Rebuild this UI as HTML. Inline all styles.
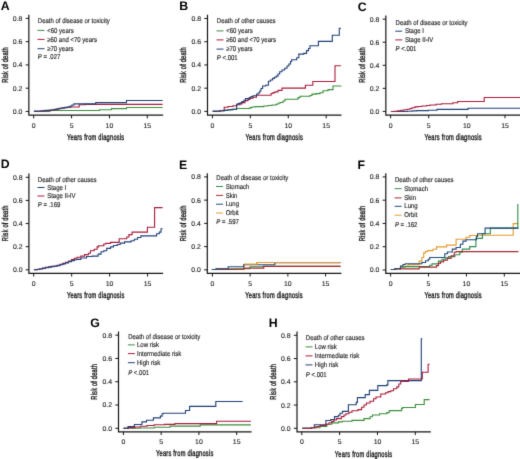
<!DOCTYPE html>
<html><head><meta charset="utf-8"><style>
html,body{margin:0;padding:0;background:#fff;}
svg{display:block;text-rendering:geometricPrecision;}
text{font-family:"Liberation Sans",sans-serif;fill:#1e1e1e;}
.L{font-weight:bold;font-size:12.3px;fill:#000;}
.t{font-size:6.9px;stroke:#1e1e1e;stroke-width:0.12px;}
.at{font-size:8.6px;stroke:#1e1e1e;stroke-width:0.4px;}
.lg{font-size:7px;stroke:#1e1e1e;stroke-width:0.15px;}
.ax{stroke:#141414;stroke-width:1.2;fill:none;stroke-linecap:square;}
.tk{stroke:#141414;stroke-width:1.0;fill:none;}
.cv{stroke-width:1.1;fill:none;}
</style></head><body>
<svg width="520" height="459" viewBox="0 0 520 459"><defs><filter id="soft" x="0" y="0" width="520" height="459" filterUnits="userSpaceOnUse" color-interpolation-filters="sRGB"><feConvolveMatrix order="3" kernelMatrix="0.0113 0.0838 0.0113 0.0838 0.6193 0.0838 0.0113 0.0838 0.0113" edgeMode="duplicate"/></filter></defs>
<g filter="url(#soft)"><rect x="-5" y="-5" width="530" height="470" fill="#fff"/>
<text x="0.65" y="10.45" class="L">A</text>
<path d="M28.85 15.25 V115.20 H162.50" class="ax"/>
<path d="M25.65 111.45 H28.85" class="tk"/>
<text x="22.45" y="113.90" class="t" text-anchor="end">0.0</text>
<path d="M25.65 88.19 H28.85" class="tk"/>
<text x="22.45" y="90.64" class="t" text-anchor="end">0.2</text>
<path d="M25.65 64.92 H28.85" class="tk"/>
<text x="22.45" y="67.38" class="t" text-anchor="end">0.4</text>
<path d="M25.65 41.66 H28.85" class="tk"/>
<text x="22.45" y="44.11" class="t" text-anchor="end">0.6</text>
<path d="M25.65 18.40 H28.85" class="tk"/>
<text x="22.45" y="20.85" class="t" text-anchor="end">0.8</text>
<path d="M33.70 115.20 V118.40" class="tk"/>
<text x="33.70" y="127.60" class="t" text-anchor="middle">0</text>
<path d="M71.57 115.20 V118.40" class="tk"/>
<text x="71.57" y="127.60" class="t" text-anchor="middle">5</text>
<path d="M109.43 115.20 V118.40" class="tk"/>
<text x="109.43" y="127.60" class="t" text-anchor="middle">10</text>
<path d="M147.30 115.20 V118.40" class="tk"/>
<text x="147.30" y="127.60" class="t" text-anchor="middle">15</text>
<text transform="translate(95.67 139.80) scale(0.66 1)" class="at" letter-spacing="0.36" text-anchor="middle">Years from diagnosis</text>
<text transform="translate(7.65 64.95) rotate(-90) scale(0.66 1)" class="at" letter-spacing="0.3" text-anchor="middle">Risk of death</text>
<text transform="translate(37.80 22.90) scale(0.857 1)" class="lg">Death of disease or toxicity</text>
<path d="M37.50 30.40 h7" stroke="#3a8c3a" stroke-width="1.0" fill="none"/>
<text transform="translate(47.20 32.50) scale(0.857 1)" class="lg">&lt;60 years</text>
<path d="M37.50 39.40 h7" stroke="#a81a3a" stroke-width="1.0" fill="none"/>
<text transform="translate(47.20 41.50) scale(0.857 1)" class="lg">≥60 and &lt;70 years</text>
<path d="M37.50 48.70 h7" stroke="#1f3f76" stroke-width="1.0" fill="none"/>
<text transform="translate(47.20 50.80) scale(0.857 1)" class="lg">≥70 years</text>
<text transform="translate(37.80 58.90) scale(0.857 1)" class="lg"><tspan font-style="italic">P</tspan> = .027</text>
<path d="M33.90 111.40 H49.70 V110.50 H99.60 V109.80 H111.50 V108.60 H126.50 V107.50 H162.60 V107.50" stroke="#3a8c3a" class="cv"/>
<path d="M33.90 111.40 H38.00 V111.20 H43.00 V110.90 H47.00 V110.60 H51.00 V110.00 H55.00 V109.40 H58.00 V108.70 H61.00 V108.20 H64.00 V107.70 H67.00 V107.30 H71.20 V107.00 H79.20 V104.80 H85.00 V104.40 H162.60 V104.40" stroke="#a81a3a" class="cv"/>
<path d="M33.90 111.40 H37.00 V111.20 H41.00 V110.80 H45.00 V110.40 H49.00 V110.00 H53.00 V109.50 H56.00 V109.00 H59.00 V108.30 H62.00 V107.90 H65.00 V107.40 H68.00 V106.90 H70.40 V106.00 H72.00 V105.00 H74.00 V103.90 H95.80 V102.60 H126.50 V100.50 H162.60 V100.50" stroke="#1f3f76" class="cv"/>
<text x="179.30" y="10.30" class="L">B</text>
<path d="M207.50 15.35 V115.15 H340.90" class="ax"/>
<path d="M204.30 111.40 H207.50" class="tk"/>
<text x="201.10" y="113.85" class="t" text-anchor="end">0.0</text>
<path d="M204.30 88.18 H207.50" class="tk"/>
<text x="201.10" y="90.63" class="t" text-anchor="end">0.2</text>
<path d="M204.30 64.95 H207.50" class="tk"/>
<text x="201.10" y="67.40" class="t" text-anchor="end">0.4</text>
<path d="M204.30 41.72 H207.50" class="tk"/>
<text x="201.10" y="44.17" class="t" text-anchor="end">0.6</text>
<path d="M204.30 18.50 H207.50" class="tk"/>
<text x="201.10" y="20.95" class="t" text-anchor="end">0.8</text>
<path d="M212.40 115.15 V118.35" class="tk"/>
<text x="212.40" y="127.55" class="t" text-anchor="middle">0</text>
<path d="M250.33 115.15 V118.35" class="tk"/>
<text x="250.33" y="127.55" class="t" text-anchor="middle">5</text>
<path d="M288.27 115.15 V118.35" class="tk"/>
<text x="288.27" y="127.55" class="t" text-anchor="middle">10</text>
<path d="M326.20 115.15 V118.35" class="tk"/>
<text x="326.20" y="127.55" class="t" text-anchor="middle">15</text>
<text transform="translate(274.20 139.75) scale(0.66 1)" class="at" letter-spacing="0.36" text-anchor="middle">Years from diagnosis</text>
<text transform="translate(186.30 64.90) rotate(-90) scale(0.66 1)" class="at" letter-spacing="0.3" text-anchor="middle">Risk of death</text>
<text transform="translate(216.80 23.30) scale(0.857 1)" class="lg">Death of other causes</text>
<path d="M216.50 30.90 h7" stroke="#3a8c3a" stroke-width="1.0" fill="none"/>
<text transform="translate(226.20 33.00) scale(0.857 1)" class="lg">&lt;60 years</text>
<path d="M216.50 39.90 h7" stroke="#a81a3a" stroke-width="1.0" fill="none"/>
<text transform="translate(226.20 42.00) scale(0.857 1)" class="lg">≥60 and &lt;70 years</text>
<path d="M216.50 49.10 h7" stroke="#1f3f76" stroke-width="1.0" fill="none"/>
<text transform="translate(226.20 51.20) scale(0.857 1)" class="lg">≥70 years</text>
<text transform="translate(216.80 59.60) scale(0.857 1)" class="lg"><tspan font-style="italic">P</tspan> &lt;.001</text>
<path d="M212.70 111.40 H216.00 V111.20 H220.00 V110.80 H224.20 V110.40 H228.00 V109.70 H232.00 V109.20 H236.70 V108.50 H250.00 V107.60 H252.00 V107.00 H255.00 V106.60 H263.80 V106.00 H268.00 V105.50 H272.00 V105.00 H276.00 V104.20 H278.00 V103.30 H280.00 V102.50 H283.00 V101.00 H285.00 V99.30 H298.00 V97.60 H300.00 V96.30 H310.00 V95.50 H312.00 V94.10 H316.00 V93.60 H320.00 V92.70 H323.00 V90.80 H328.00 V89.60 H333.00 V86.00 H341.00 V85.70" stroke="#3a8c3a" class="cv"/>
<path d="M212.70 111.40 H216.00 V111.20 H220.00 V110.80 H224.20 V107.30 H228.00 V106.50 H233.00 V105.80 H236.90 V104.80 H240.00 V103.90 H242.00 V102.60 H245.00 V100.60 H248.00 V99.40 H250.00 V98.30 H253.00 V97.30 H256.50 V95.20 H271.10 V93.50 H273.00 V92.60 H275.00 V91.90 H278.00 V90.40 H282.00 V88.10 H305.40 V85.20 H312.80 V81.50 H335.00 V65.70 H341.00 V65.70" stroke="#a81a3a" class="cv"/>
<path d="M212.70 111.40 H216.00 V111.20 H220.00 V110.80 H224.20 V110.40 H227.00 V110.00 H230.00 V109.60 H233.00 V109.20 H236.60 V104.20 H238.00 V103.60 H240.00 V102.80 H242.00 V101.50 H244.00 V100.20 H245.50 V98.60 H249.20 V97.50 H251.00 V96.60 H253.00 V95.80 H256.50 V94.30 H258.00 V93.00 H259.70 V91.00 H261.00 V88.50 H262.60 V86.00 H265.60 V85.30 H268.40 V81.20 H270.50 V80.00 H272.60 V78.40 H274.50 V77.20 H276.20 V76.10 H278.00 V74.00 H279.70 V71.80 H282.00 V70.00 H284.70 V68.30 H287.00 V66.00 H288.90 V64.00 H290.50 V61.50 H291.70 V59.80 H296.70 V57.70 H298.80 V54.10 H303.70 V53.40 H306.60 V50.60 H308.50 V48.50 H310.00 V45.70 H318.40 V41.40 H332.30 V35.30 H339.30 V28.30 H341.00 V28.30" stroke="#1f3f76" class="cv"/>
<text x="357.65" y="10.50" class="L">C</text>
<path d="M385.85 16.00 V115.10 H520.50" class="ax"/>
<path d="M382.65 111.40 H385.85" class="tk"/>
<text x="379.45" y="113.85" class="t" text-anchor="end">0.0</text>
<path d="M382.65 88.34 H385.85" class="tk"/>
<text x="379.45" y="90.79" class="t" text-anchor="end">0.2</text>
<path d="M382.65 65.28 H385.85" class="tk"/>
<text x="379.45" y="67.73" class="t" text-anchor="end">0.4</text>
<path d="M382.65 42.21 H385.85" class="tk"/>
<text x="379.45" y="44.66" class="t" text-anchor="end">0.6</text>
<path d="M382.65 19.15 H385.85" class="tk"/>
<text x="379.45" y="21.60" class="t" text-anchor="end">0.8</text>
<path d="M390.60 115.10 V118.30" class="tk"/>
<text x="390.60" y="127.50" class="t" text-anchor="middle">0</text>
<path d="M428.73 115.10 V118.30" class="tk"/>
<text x="428.73" y="127.50" class="t" text-anchor="middle">5</text>
<path d="M466.87 115.10 V118.30" class="tk"/>
<text x="466.87" y="127.50" class="t" text-anchor="middle">10</text>
<path d="M505.00 115.10 V118.30" class="tk"/>
<text x="505.00" y="127.50" class="t" text-anchor="middle">15</text>
<text transform="translate(453.18 139.70) scale(0.66 1)" class="at" letter-spacing="0.36" text-anchor="middle">Years from diagnosis</text>
<text transform="translate(364.65 64.90) rotate(-90) scale(0.66 1)" class="at" letter-spacing="0.3" text-anchor="middle">Risk of death</text>
<text transform="translate(395.55 25.40) scale(0.857 1)" class="lg">Death of disease or toxicity</text>
<path d="M395.25 31.20 h7" stroke="#1f3f76" stroke-width="1.0" fill="none"/>
<text transform="translate(404.95 33.30) scale(0.857 1)" class="lg">Stage I</text>
<path d="M395.25 39.90 h7" stroke="#a81a3a" stroke-width="1.0" fill="none"/>
<text transform="translate(404.95 42.00) scale(0.857 1)" class="lg">Stage II-IV</text>
<text transform="translate(395.55 50.80) scale(0.857 1)" class="lg"><tspan font-style="italic">P</tspan> &lt;.001</text>
<path d="M390.90 111.50 H407.20 V111.20 H412.00 V110.90 H416.80 V110.60 H428.40 V110.20 H437.00 V109.40 H468.00 V108.30 H520.00 V108.30" stroke="#1f3f76" class="cv"/>
<path d="M390.90 111.50 H394.00 V111.30 H397.60 V110.80 H401.00 V110.30 H404.00 V109.80 H407.20 V109.30 H410.00 V108.50 H412.00 V107.80 H414.90 V106.90 H418.00 V106.50 H422.00 V106.00 H426.50 V105.50 H430.00 V105.00 H436.00 V104.20 H441.50 V103.80 H453.00 V102.70 H457.70 V101.50 H484.20 V97.50 H520.00 V97.50" stroke="#a81a3a" class="cv"/>
<text x="0.70" y="168.40" class="L">D</text>
<path d="M28.90 174.15 V273.35 H162.50" class="ax"/>
<path d="M25.70 269.80 H28.90" class="tk"/>
<text x="22.50" y="272.25" class="t" text-anchor="end">0.0</text>
<path d="M25.70 246.68 H28.90" class="tk"/>
<text x="22.50" y="249.12" class="t" text-anchor="end">0.2</text>
<path d="M25.70 223.55 H28.90" class="tk"/>
<text x="22.50" y="226.00" class="t" text-anchor="end">0.4</text>
<path d="M25.70 200.43 H28.90" class="tk"/>
<text x="22.50" y="202.88" class="t" text-anchor="end">0.6</text>
<path d="M25.70 177.30 H28.90" class="tk"/>
<text x="22.50" y="179.75" class="t" text-anchor="end">0.8</text>
<path d="M33.70 273.35 V276.55" class="tk"/>
<text x="33.70" y="285.75" class="t" text-anchor="middle">0</text>
<path d="M71.67 273.35 V276.55" class="tk"/>
<text x="71.67" y="285.75" class="t" text-anchor="middle">5</text>
<path d="M109.63 273.35 V276.55" class="tk"/>
<text x="109.63" y="285.75" class="t" text-anchor="middle">10</text>
<path d="M147.60 273.35 V276.55" class="tk"/>
<text x="147.60" y="285.75" class="t" text-anchor="middle">15</text>
<text transform="translate(95.70 297.95) scale(0.66 1)" class="at" letter-spacing="0.36" text-anchor="middle">Years from diagnosis</text>
<text transform="translate(7.70 223.30) rotate(-90) scale(0.66 1)" class="at" letter-spacing="0.3" text-anchor="middle">Risk of death</text>
<text transform="translate(37.80 182.00) scale(0.857 1)" class="lg">Death of other causes</text>
<path d="M37.50 187.50 h7" stroke="#1f3f76" stroke-width="1.0" fill="none"/>
<text transform="translate(47.20 189.60) scale(0.857 1)" class="lg">Stage I</text>
<path d="M37.50 196.00 h7" stroke="#a81a3a" stroke-width="1.0" fill="none"/>
<text transform="translate(47.20 198.10) scale(0.857 1)" class="lg">Stage II-IV</text>
<text transform="translate(37.80 206.50) scale(0.857 1)" class="lg"><tspan font-style="italic">P</tspan> = .169</text>
<path d="M33.90 269.80 H37.00 V269.40 H39.70 V268.80 H42.50 V268.10 H45.50 V267.40 H48.50 V266.90 H51.20 V266.40 H54.00 V266.00 H57.00 V265.30 H60.00 V264.40 H62.80 V263.40 H65.50 V262.40 H68.50 V261.00 H71.50 V259.60 H74.30 V258.20 H77.00 V257.20 H80.80 V256.10 H84.60 V254.60 H88.50 V253.20 H90.40 V250.80 H94.20 V249.30 H97.10 V246.90 H98.60 V245.80 H103.80 V244.00 H105.80 V243.40 H110.60 V242.40 H119.20 V238.75 H126.70 V237.00 H128.90 V234.60 H132.10 V232.10 H147.40 V227.20 H154.60 V207.60 H162.60 V207.60" stroke="#a81a3a" class="cv"/>
<path d="M33.90 269.80 H37.00 V269.50 H39.70 V269.00 H42.50 V268.40 H45.50 V267.70 H48.50 V267.10 H51.20 V266.60 H54.00 V266.20 H57.00 V265.60 H60.00 V264.80 H62.80 V263.90 H65.50 V262.90 H68.50 V261.60 H71.50 V260.60 H74.30 V259.80 H77.00 V259.40 H80.80 V258.00 H86.50 V256.50 H92.30 V256.10 H98.10 V254.10 H101.00 V251.70 H103.80 V250.80 H106.70 V248.40 H110.60 V246.90 H113.50 V245.50 H117.30 V244.50 H120.20 V243.10 H124.50 V241.90 H131.10 V240.80 H134.30 V239.20 H137.60 V237.50 H140.90 V235.90 H156.60 V233.70 H159.30 V232.10 H161.00 V228.80 H162.60 V228.80" stroke="#1f3f76" class="cv"/>
<text x="179.10" y="168.50" class="L">E</text>
<path d="M207.30 173.75 V273.30 H340.80" class="ax"/>
<path d="M204.10 269.85 H207.30" class="tk"/>
<text x="200.90" y="272.30" class="t" text-anchor="end">0.0</text>
<path d="M204.10 246.61 H207.30" class="tk"/>
<text x="200.90" y="249.06" class="t" text-anchor="end">0.2</text>
<path d="M204.10 223.38 H207.30" class="tk"/>
<text x="200.90" y="225.82" class="t" text-anchor="end">0.4</text>
<path d="M204.10 200.14 H207.30" class="tk"/>
<text x="200.90" y="202.59" class="t" text-anchor="end">0.6</text>
<path d="M204.10 176.90 H207.30" class="tk"/>
<text x="200.90" y="179.35" class="t" text-anchor="end">0.8</text>
<path d="M212.40 273.30 V276.50" class="tk"/>
<text x="212.40" y="285.70" class="t" text-anchor="middle">0</text>
<path d="M250.13 273.30 V276.50" class="tk"/>
<text x="250.13" y="285.70" class="t" text-anchor="middle">5</text>
<path d="M287.87 273.30 V276.50" class="tk"/>
<text x="287.87" y="285.70" class="t" text-anchor="middle">10</text>
<path d="M325.60 273.30 V276.50" class="tk"/>
<text x="325.60" y="285.70" class="t" text-anchor="middle">15</text>
<text transform="translate(274.05 297.90) scale(0.66 1)" class="at" letter-spacing="0.36" text-anchor="middle">Years from diagnosis</text>
<text transform="translate(186.10 223.35) rotate(-90) scale(0.66 1)" class="at" letter-spacing="0.3" text-anchor="middle">Risk of death</text>
<text transform="translate(216.30 180.20) scale(0.857 1)" class="lg">Death of disease or toxicity</text>
<path d="M216.00 186.50 h7" stroke="#2f8a4c" stroke-width="1.0" fill="none"/>
<text transform="translate(225.70 188.60) scale(0.857 1)" class="lg">Stomach</text>
<path d="M216.00 195.40 h7" stroke="#a82a32" stroke-width="1.0" fill="none"/>
<text transform="translate(225.70 197.50) scale(0.857 1)" class="lg">Skin</text>
<path d="M216.00 204.20 h7" stroke="#1f4a7c" stroke-width="1.0" fill="none"/>
<text transform="translate(225.70 206.30) scale(0.857 1)" class="lg">Lung</text>
<path d="M216.00 213.00 h7" stroke="#e49a2c" stroke-width="1.0" fill="none"/>
<text transform="translate(225.70 215.10) scale(0.857 1)" class="lg">Orbit</text>
<text transform="translate(216.30 224.40) scale(0.857 1)" class="lg"><tspan font-style="italic">P</tspan> = .597</text>
<path d="M211.90 269.50 H244.30 V264.30 H257.00 V262.50 H340.50 V262.50" stroke="#e49a2c" class="cv"/>
<path d="M211.90 269.50 H216.00 V268.80 H250.00 V266.80 H263.00 V266.40 H340.50 V266.40" stroke="#2f8a4c" class="cv"/>
<path d="M211.90 269.50 H235.60 V269.20 H243.60 V268.10 H263.80 V266.40 H340.50 V266.40" stroke="#a82a32" class="cv"/>
<path d="M211.90 269.50 H216.20 V268.80 H228.20 V266.80 H243.60 V264.70 H274.80 V262.60 H340.50 V262.60" stroke="#1f4a7c" class="cv"/>
<path d="M244.30 264.30 H257.00 V262.50 H340.50 V262.50" stroke="#e49a2c" class="cv"/>
<text x="357.60" y="168.50" class="L">F</text>
<path d="M385.80 173.75 V273.30 H520.50" class="ax"/>
<path d="M382.60 270.00 H385.80" class="tk"/>
<text x="379.40" y="272.45" class="t" text-anchor="end">0.0</text>
<path d="M382.60 246.72 H385.80" class="tk"/>
<text x="379.40" y="249.17" class="t" text-anchor="end">0.2</text>
<path d="M382.60 223.45 H385.80" class="tk"/>
<text x="379.40" y="225.90" class="t" text-anchor="end">0.4</text>
<path d="M382.60 200.18 H385.80" class="tk"/>
<text x="379.40" y="202.62" class="t" text-anchor="end">0.6</text>
<path d="M382.60 176.90 H385.80" class="tk"/>
<text x="379.40" y="179.35" class="t" text-anchor="end">0.8</text>
<path d="M390.60 273.30 V276.50" class="tk"/>
<text x="390.60" y="285.70" class="t" text-anchor="middle">0</text>
<path d="M428.50 273.30 V276.50" class="tk"/>
<text x="428.50" y="285.70" class="t" text-anchor="middle">5</text>
<path d="M466.40 273.30 V276.50" class="tk"/>
<text x="466.40" y="285.70" class="t" text-anchor="middle">10</text>
<path d="M504.30 273.30 V276.50" class="tk"/>
<text x="504.30" y="285.70" class="t" text-anchor="middle">15</text>
<text transform="translate(453.15 297.90) scale(0.66 1)" class="at" letter-spacing="0.36" text-anchor="middle">Years from diagnosis</text>
<text transform="translate(364.60 223.50) rotate(-90) scale(0.66 1)" class="at" letter-spacing="0.3" text-anchor="middle">Risk of death</text>
<text transform="translate(394.90 182.10) scale(0.857 1)" class="lg">Death of other causes</text>
<path d="M394.60 188.70 h7" stroke="#2f8a4c" stroke-width="1.0" fill="none"/>
<text transform="translate(404.30 190.80) scale(0.857 1)" class="lg">Stomach</text>
<path d="M394.60 197.90 h7" stroke="#a82a32" stroke-width="1.0" fill="none"/>
<text transform="translate(404.30 200.00) scale(0.857 1)" class="lg">Skin</text>
<path d="M394.60 206.30 h7" stroke="#1f4a7c" stroke-width="1.0" fill="none"/>
<text transform="translate(404.30 208.40) scale(0.857 1)" class="lg">Lung</text>
<path d="M394.60 215.20 h7" stroke="#e49a2c" stroke-width="1.0" fill="none"/>
<text transform="translate(404.30 217.30) scale(0.857 1)" class="lg">Orbit</text>
<text transform="translate(394.90 226.90) scale(0.857 1)" class="lg"><tspan font-style="italic">P</tspan> = .162</text>
<path d="M390.80 269.50 H395.00 V268.70 H400.50 V266.40 H408.00 V264.60 H419.20 V261.10 H421.90 V257.50 H423.70 V252.90 H425.60 V251.50 H427.40 V250.60 H432.90 V249.20 H436.50 V246.90 H446.60 V245.10 H456.10 V239.20 H466.00 V237.30 H469.70 V235.50 H477.10 V235.30 H513.20 V223.60 H518.40 V223.60" stroke="#e49a2c" class="cv"/>
<path d="M390.80 269.50 H395.00 V268.70 H400.50 V267.30 H405.00 V266.60 H429.70 V265.20 H432.00 V263.90 H438.40 V261.10 H442.00 V259.30 H445.70 V257.90 H448.60 V256.60 H454.80 V254.70 H459.80 V252.20 H462.30 V249.10 H469.70 V246.60 H475.90 V238.40 H482.40 V233.80 H490.30 V228.10 H517.80 V204.60 H518.40 V204.60" stroke="#2f8a4c" class="cv"/>
<path d="M390.80 269.50 H395.00 V268.90 H419.20 V267.10 H436.50 V265.60 H438.50 V263.40 H440.50 V262.00 H443.60 V260.30 H447.40 V258.40 H451.10 V255.90 H454.20 V252.20 H456.10 V251.60 H518.40 V251.60" stroke="#a82a32" class="cv"/>
<path d="M390.80 269.50 H395.00 V268.70 H400.50 V266.00 H403.00 V264.50 H405.30 V263.80 H421.90 V262.50 H425.60 V260.70 H428.30 V259.30 H429.70 V257.50 H444.80 V253.80 H447.40 V252.00 H452.30 V249.10 H456.10 V247.50 H460.40 V244.20 H462.90 V241.10 H466.00 V239.80 H476.50 V236.50 H477.50 V233.80 H485.10 V228.10 H518.40 V228.10" stroke="#1f4a7c" class="cv"/>
<text x="90.30" y="326.80" class="L">G</text>
<path d="M118.50 332.00 V431.85 H251.00" class="ax"/>
<path d="M115.30 428.30 H118.50" class="tk"/>
<text x="112.10" y="430.75" class="t" text-anchor="end">0.0</text>
<path d="M115.30 405.01 H118.50" class="tk"/>
<text x="112.10" y="407.46" class="t" text-anchor="end">0.2</text>
<path d="M115.30 381.73 H118.50" class="tk"/>
<text x="112.10" y="384.18" class="t" text-anchor="end">0.4</text>
<path d="M115.30 358.44 H118.50" class="tk"/>
<text x="112.10" y="360.89" class="t" text-anchor="end">0.6</text>
<path d="M115.30 335.15 H118.50" class="tk"/>
<text x="112.10" y="337.60" class="t" text-anchor="end">0.8</text>
<path d="M123.40 431.85 V435.05" class="tk"/>
<text x="123.40" y="444.25" class="t" text-anchor="middle">0</text>
<path d="M161.17 431.85 V435.05" class="tk"/>
<text x="161.17" y="444.25" class="t" text-anchor="middle">5</text>
<path d="M198.93 431.85 V435.05" class="tk"/>
<text x="198.93" y="444.25" class="t" text-anchor="middle">10</text>
<path d="M236.70 431.85 V435.05" class="tk"/>
<text x="236.70" y="444.25" class="t" text-anchor="middle">15</text>
<text transform="translate(184.75 456.45) scale(0.66 1)" class="at" letter-spacing="0.36" text-anchor="middle">Years from diagnosis</text>
<text transform="translate(97.30 381.80) rotate(-90) scale(0.66 1)" class="at" letter-spacing="0.3" text-anchor="middle">Risk of death</text>
<text transform="translate(128.20 339.00) scale(0.857 1)" class="lg">Death of disease or toxicity</text>
<path d="M127.90 344.90 h7" stroke="#3a8c3a" stroke-width="1.0" fill="none"/>
<text transform="translate(137.00 347.00) scale(0.857 1)" class="lg">Low risk</text>
<path d="M127.90 353.60 h7" stroke="#a81a3a" stroke-width="1.0" fill="none"/>
<text transform="translate(137.00 355.70) scale(0.857 1)" class="lg">Intermediate risk</text>
<path d="M127.90 362.70 h7" stroke="#1f3f76" stroke-width="1.0" fill="none"/>
<text transform="translate(137.00 364.80) scale(0.857 1)" class="lg">High risk</text>
<text transform="translate(128.20 374.50) scale(0.857 1)" class="lg"><tspan font-style="italic">P</tspan> &lt;.001</text>
<path d="M123.50 428.30 H140.00 V428.00 H154.20 V427.20 H170.00 V426.10 H200.20 V424.90 H250.90 V424.90" stroke="#3a8c3a" class="cv"/>
<path d="M123.50 428.30 H128.10 V427.60 H135.00 V427.00 H140.40 V426.20 H147.00 V425.50 H154.20 V424.80 H164.60 V424.40 H174.90 V423.60 H216.60 V421.20 H250.90 V421.20" stroke="#a81a3a" class="cv"/>
<path d="M123.50 428.30 H128.10 V426.50 H134.40 V424.50 H141.90 V421.90 H146.50 V420.20 H153.40 V417.90 H160.40 V416.10 H162.10 V413.80 H163.30 V413.30 H185.50 V410.50 H189.60 V406.40 H215.80 V401.50 H242.70 V401.50" stroke="#1f3f76" class="cv"/>
<text x="268.80" y="326.80" class="L">H</text>
<path d="M297.00 332.15 V431.90 H430.20" class="ax"/>
<path d="M293.80 428.30 H297.00" class="tk"/>
<text x="290.60" y="430.75" class="t" text-anchor="end">0.0</text>
<path d="M293.80 405.05 H297.00" class="tk"/>
<text x="290.60" y="407.50" class="t" text-anchor="end">0.2</text>
<path d="M293.80 381.80 H297.00" class="tk"/>
<text x="290.60" y="384.25" class="t" text-anchor="end">0.4</text>
<path d="M293.80 358.55 H297.00" class="tk"/>
<text x="290.60" y="361.00" class="t" text-anchor="end">0.6</text>
<path d="M293.80 335.30 H297.00" class="tk"/>
<text x="290.60" y="337.75" class="t" text-anchor="end">0.8</text>
<path d="M301.80 431.90 V435.10" class="tk"/>
<text x="301.80" y="444.30" class="t" text-anchor="middle">0</text>
<path d="M339.63 431.90 V435.10" class="tk"/>
<text x="339.63" y="444.30" class="t" text-anchor="middle">5</text>
<path d="M377.47 431.90 V435.10" class="tk"/>
<text x="377.47" y="444.30" class="t" text-anchor="middle">10</text>
<path d="M415.30 431.90 V435.10" class="tk"/>
<text x="415.30" y="444.30" class="t" text-anchor="middle">15</text>
<text transform="translate(363.60 456.50) scale(0.66 1)" class="at" letter-spacing="0.36" text-anchor="middle">Years from diagnosis</text>
<text transform="translate(275.80 381.80) rotate(-90) scale(0.66 1)" class="at" letter-spacing="0.3" text-anchor="middle">Risk of death</text>
<text transform="translate(305.80 340.00) scale(0.857 1)" class="lg">Death of other causes</text>
<path d="M305.50 346.90 h7" stroke="#3a8c3a" stroke-width="1.0" fill="none"/>
<text transform="translate(314.80 349.00) scale(0.857 1)" class="lg">Low risk</text>
<path d="M305.50 355.90 h7" stroke="#a81a3a" stroke-width="1.0" fill="none"/>
<text transform="translate(314.80 358.00) scale(0.857 1)" class="lg">Intermediate risk</text>
<path d="M305.50 364.90 h7" stroke="#1f3f76" stroke-width="1.0" fill="none"/>
<text transform="translate(314.80 367.00) scale(0.857 1)" class="lg">High risk</text>
<text transform="translate(305.80 376.80) scale(0.857 1)" class="lg"><tspan font-style="italic">P</tspan> &lt;.001</text>
<path d="M302.30 428.20 H311.50 V427.70 H320.00 V426.50 H326.80 V424.30 H331.70 V422.90 H338.40 V421.90 H342.20 V421.30 H352.00 V420.40 H364.00 V418.60 H370.00 V416.80 H372.40 V415.00 H379.60 V413.80 H386.80 V412.60 H389.20 V410.60 H401.70 V408.40 H402.60 V407.50 H415.40 V404.50 H424.20 V399.60 H429.60 V399.60" stroke="#3a8c3a" class="cv"/>
<path d="M302.30 428.20 H311.50 V427.70 H314.30 V424.80 H325.90 V420.50 H330.70 V419.50 H334.50 V416.60 H338.40 V415.20 H340.00 V413.20 H342.40 V411.40 H348.40 V404.80 H356.20 V402.40 H357.40 V397.60 H365.20 V394.60 H369.40 V390.40 H377.80 V385.60 H386.80 V384.90 H387.90 V380.60 H421.30 V338.80 H422.30 V338.80" stroke="#1f3f76" class="cv"/>
<path d="M302.30 428.20 H311.50 V427.70 H316.00 V426.50 H320.00 V425.50 H325.90 V424.30 H329.00 V422.80 H331.70 V421.40 H334.00 V420.00 H336.50 V418.60 H341.30 V416.60 H344.00 V415.00 H346.00 V413.80 H349.00 V412.20 H352.00 V410.80 H358.00 V409.60 H361.60 V407.20 H364.00 V405.00 H366.40 V403.00 H370.00 V401.20 H373.60 V398.80 H376.00 V397.00 H380.80 V394.00 H385.60 V392.80 H388.00 V391.60 H390.80 V390.80 H393.50 V388.80 H396.80 V386.90 H398.80 V384.00 H400.70 V381.40 H408.50 V379.00 H422.30 V372.20 H428.10 V364.30 H429.60 V364.30" stroke="#a81a3a" class="cv"/>
</g></svg></body></html>
